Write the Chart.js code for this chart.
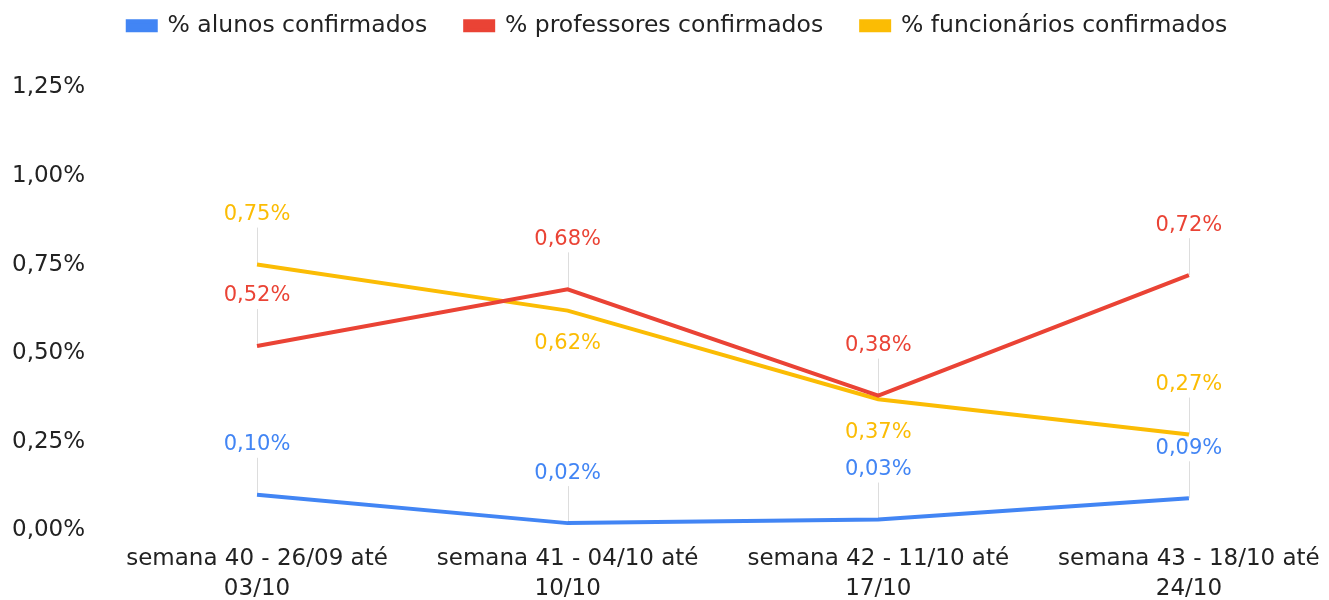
<!DOCTYPE html>
<html>
<head>
<meta charset="utf-8">
<script src="https://cdn.jsdelivr.net/npm/chart.js@4/dist/chart.umd.min.js"></script>
<style>
  html, body { margin: 0; padding: 0; background: #fff; }
  #wrap { width: 1329px; height: 600px; }
</style>
</head>
<body>
<div id="wrap"><canvas id="chart"></canvas></div>
<script>
// categories (two-line tick labels)
const weeks = [
    ['semana 40 - 26/09 até', '03/10'],
    ['semana 41 - 04/10 até', '10/10'],
    ['semana 42 - 11/10 até', '17/10'],
    ['semana 43 - 18/10 até', '24/10']
];

// values in %
const alunos = [0.10, 0.02, 0.03, 0.09];
const professores = [0.52, 0.68, 0.38, 0.72];
const funcionarios = [0.75, 0.62, 0.37, 0.27];

const yTicks = [0, 0.25, 0.5, 0.75, 1.0, 1.25];

const FONT = "'DejaVu Sans', sans-serif";

function pct(v) {
    return v.toFixed(2).replace('.', ',') + '%';
}

function toPoints(arr) {
    return arr.map((v, i) => ({ x: i, y: v }));
}

// labels that sit under the point instead of above: datasetIndex -> indexes
const labelsBelow = { 2: [1, 2] };

// value labels with a thin leader line up to the text
const valueLabels = {
    id: 'valueLabels',
    beforeDatasetsDraw(chart) {
        const ctx = chart.ctx;
        ctx.save();
        ctx.strokeStyle = '#dddddd';
        ctx.lineWidth = 1;
        chart.data.datasets.forEach((ds, di) => {
            const below = labelsBelow[di] || [];
            chart.getDatasetMeta(di).data.forEach((pt, i) => {
                if (below.includes(i)) return;
                const x = Math.round(pt.x) + 0.5;
                ctx.beginPath();
                ctx.moveTo(x, pt.y);
                ctx.lineTo(x, pt.y - 37);
                ctx.stroke();
            });
        });
        ctx.restore();
    },
    afterDatasetsDraw(chart) {
        const ctx = chart.ctx;
        ctx.save();
        ctx.font = '21px ' + FONT;
        ctx.textAlign = 'center';
        ctx.textBaseline = 'middle';
        chart.data.datasets.forEach((ds, di) => {
            const below = labelsBelow[di] || [];
            chart.getDatasetMeta(di).data.forEach((pt, i) => {
                const y = below.includes(i) ? pt.y + 33 : pt.y - 50;
                ctx.fillStyle = ds.borderColor;
                ctx.fillText(pct(ds.data[i].y), pt.x, y);
            });
        });
        ctx.restore();
    }
};

// extra room under the legend
const legendGap = {
    id: 'legendGap',
    beforeInit(chart) {
        const fit = chart.legend.fit;
        chart.legend.fit = function () {
            fit.bind(chart.legend)();
            this.height += 40;
        };
    }
};

new Chart(document.getElementById('chart'), {
    type: 'line',
    data: {
        datasets: [{
            label: '% alunos confirmados',
            data: toPoints(alunos),
            borderColor: '#4285f4',
            backgroundColor: '#4285f4',
            borderWidth: 4,
            pointRadius: 0,
            tension: 0
        }, {
            label: '% professores confirmados',
            data: toPoints(professores),
            borderColor: '#ea4335',
            backgroundColor: '#ea4335',
            borderWidth: 4,
            pointRadius: 0,
            tension: 0
        }, {
            label: '% funcionários confirmados',
            data: toPoints(funcionarios),
            borderColor: '#fbbc04',
            backgroundColor: '#fbbc04',
            borderWidth: 4,
            pointRadius: 0,
            tension: 0
        }]
    },
    options: {
        responsive: true,
        maintainAspectRatio: false,
        animation: false,
        layout: {
            padding: { top: -24, left: -4, right: -30, bottom: -18 }
        },
        plugins: {
            legend: {
                position: 'top',
                labels: {
                    boxWidth: 28,
                    boxHeight: 9,
                    padding: 38,
                    color: '#222',
                    font: { family: FONT, size: 23.5 }
                }
            },
            tooltip: { enabled: false }
        },
        scales: {
            x: {
                type: 'linear',
                min: -0.502,
                max: 3.451,
                grid: { display: false, drawTicks: false },
                border: { display: false },
                afterBuildTicks: (scale) => {
                    scale.ticks = weeks.map((w, i) => ({ value: i }));
                },
                afterFit: (scale) => {
                    scale.paddingLeft = 0;
                    scale.paddingRight = 0;
                },
                ticks: {
                    padding: 14,
                    autoSkip: false,
                    maxRotation: 0,
                    color: '#222',
                    font: { family: FONT, size: 23, lineHeight: 1.3 },
                    callback: (v) => weeks[v] || ''
                }
            },
            y: {
                min: 0,
                max: 1.25,
                grid: { display: false, drawTicks: false },
                border: { display: false },
                afterBuildTicks: (scale) => {
                    scale.ticks = yTicks.map(v => ({ value: v }));
                },
                ticks: {
                    padding: 16,
                    color: '#222',
                    font: { family: FONT, size: 23 },
                    callback: (v) => pct(v)
                }
            }
        }
    },
    plugins: [valueLabels, legendGap]
});
</script>
</body>
</html>
